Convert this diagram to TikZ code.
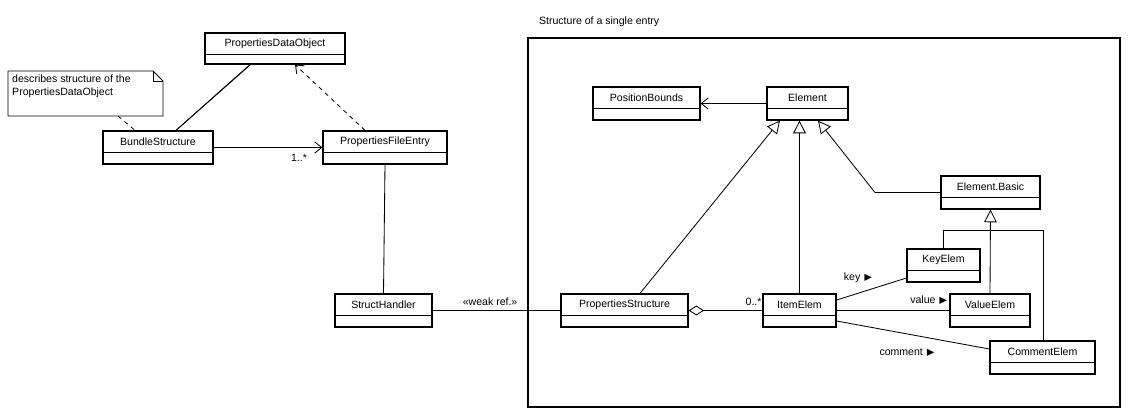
\documentclass[tikz,border=0pt]{standalone}
\usepackage{fontspec}
\usepackage{amssymb}
\setmainfont{Liberation Sans}
\usetikzlibrary{arrows.meta,positioning,calc}

\tikzstyle{cls}=[rectangle, draw, line width=0.3mm, inner sep=0pt]
\tikzstyle{assoc}=[-{Straight Barb[length=5pt,width=8pt]}]
\tikzstyle{inherit}=[-{Triangle[open,length=9pt,width=9pt]}]

% class box: name, center x, center y, width, height, text
\newcommand{\umlclass}[6]{%
  \node[cls, minimum width=#4*0.025cm, minimum height=#5*0.025cm] (#1) at (#2,#3) {};
  \draw ($(#1.north west)+(0,22)$) -- ($(#1.north east)+(0,22)$);
  \node (#1-txt) at ($(#1.north)+(0,11)$) {#6};
}

\begin{document}
\begin{tikzpicture}[x=0.025cm, y=-0.025cm, font=\fontsize{7.5}{9}\selectfont, semithick]
\useasboundingbox (0,0) rectangle (1132,417);

%frame of the entry
\node[draw, line width=0.3mm, minimum width=592*0.025cm, minimum height=369*0.025cm] (frame) at (824,222.5) {};
\node[anchor=west] (frametitle) at (534,22) {Structure of a single entry};

%outer classes
\umlclass{pdo}{275}{48.5}{140}{31}{PropertiesDataObject}
\umlclass{bundle}{158}{147.5}{110}{33}{BundleStructure}
\umlclass{pfe}{385}{147.5}{124}{33}{PropertiesFileEntry}
\umlclass{handler}{383.5}{310.5}{97}{33}{StructHandler}

%note
\coordinate (nnw) at (8,71);
\node[anchor=north west, align=left, inner sep=2pt] (note) at (9,72)
  {describes structure of the\\PropertiesDataObject};
\draw (8,71) -- (153,71) -- (163,81) -- (163,116) -- (8,116) -- cycle;
\draw (153,71) -- (153,81) -- (163,81);
\coordinate (notefoot) at (118,116);

%entry classes
\umlclass{bounds}{646.5}{103.5}{107}{33}{PositionBounds}
\umlclass{element}{807.5}{103.5}{81}{33}{Element}
\umlclass{basic}{990.5}{192.5}{99}{33}{Element.Basic}
\umlclass{keyel}{943.5}{265.5}{73}{33}{KeyElem}
\umlclass{valueel}{990}{310.5}{80}{33}{ValueElem}
\umlclass{commentel}{1042.5}{357.5}{105}{33}{CommentElem}
\umlclass{pstruct}{624.5}{310.5}{127}{33}{PropertiesStructure}
\umlclass{itemel}{799.5}{310.5}{73}{33}{ItemElem}

%outer links
\draw (bundle.north) ++(18,0) coordinate (b1) -- (pdo.south -| 250,0);
\draw (b1) -- (250,65);
\draw[dashed] (notefoot) -- (bundle.north west -| 135,0);
\draw[dashed, assoc] (pfe.north -| 365,0) -- (pdo.south -| 295,0);
\draw[assoc] (bundle.east) -- node[pos=0.93, below left=1pt and 2pt] {1..*} (pfe.west);
\draw (pfe.south) -- (handler.north);
\draw (handler.east) -- node[above, pos=0.45] {<<weak ref.>>} (pstruct.west);

%entry links
\draw[assoc] (element.west) -- (bounds.east);
\draw[inherit] (pstruct.north -| 640,0) -- (element.south -| 780,0);
\draw[inherit] (itemel.north) -- (element.south -| 799.5,0);
\draw[inherit] (basic.west) -- (875,192.5) -- (element.south -| 818,0);
\draw[inherit] (valueel.north) -- (basic.south);
\draw (keyel.north) -- (943.5,230) -- (1043,230) -- (commentel.north -| 1043,0);
\draw[{Diamond[open,length=11pt,width=7pt]}-] (pstruct.east) --
  node[pos=0.88, above] {0..*} (itemel.west);
\draw (itemel.east |- 0,300) -- node[pos=0.55, above left=0pt and -2pt] {key $\blacktriangleright$} (keyel.west |- 0,278);
\draw (itemel.east) -- node[pos=0.82, above=1pt] {value $\blacktriangleright$} (valueel.west);
\draw (itemel.east |- 0,321) -- node[pos=0.55, below left=5pt and -14pt] {comment $\blacktriangleright$} (commentel.west |- 0,349);
\end{tikzpicture}
\end{document}
